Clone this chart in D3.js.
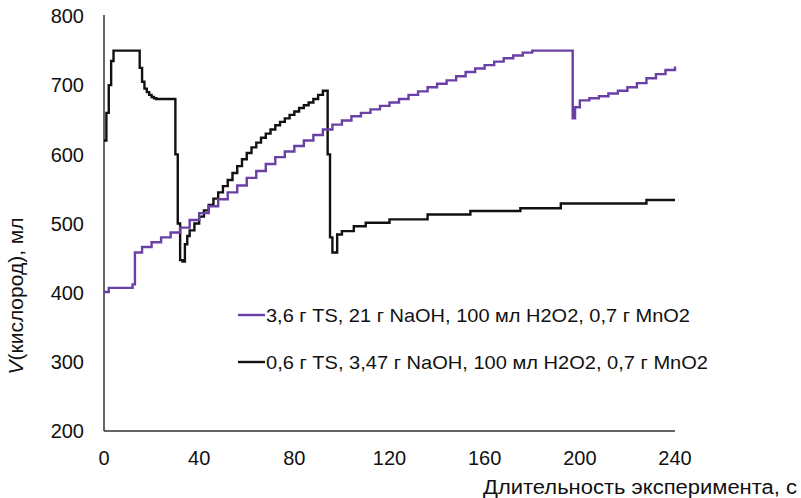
<!DOCTYPE html>
<html><head><meta charset="utf-8">
<script src="https://cdn.jsdelivr.net/npm/d3@7"></script>
<style>body{margin:0;background:#fff}svg{display:block}text{font-family:"Liberation Sans",Arial,sans-serif;fill:#111}</style>
</head><body>
<svg id="c" width="801" height="498"></svg>
<script>
// Data
const yTicks = [200,300,400,500,600,700,800];
const xTicks = [0,40,80,120,160,200,240];
const seriesNames = ["3,6 г TS, 21 г NaOH, 100 мл H2O2, 0,7 г MnO2", "0,6 г TS, 3,47 г NaOH, 100 мл H2O2, 0,7 г MnO2"];
const purpleT = [0,2,12,13,16,20,24,28,32,36,40,44,48,52,56,60,64,68,72,76,80,84,88,92,96,100,104,108,112,116,120,124,128,132,136,140,144,148,152,156,160,164,168,172,176,180,197,198,200,204,208,212,216,220,224,228,232,236,240];
const purpleV = [401,407,412,458,466,473,480,487,494,505,515,525,535,545,555,566,576,586,596,604,612,620,628,636,643,649,655,660,665,670,675,680,686,691,697,702,707,713,719,724,729,734,739,743,747,750,652,668,678,681,684,688,692,697,703,710,716,722,727];
const blackT = [0,1,2,3,4,15,16,17,18,19,20,21,22,30,31,32,33,34,35,36,38,40,42,44,46,48,50,52,54,56,58,60,62,64,66,68,70,72,74,76,78,80,82,84,86,88,90,92,94,95,96,98,100,105,110,120,136,154,175,192,228,240];
const blackV = [620,660,700,735,750,725,705,695,690,686,683,681,680,600,500,447,445,470,482,490,500,510,519,527,536,545,554,563,573,583,593,602,610,617,624,630,636,642,647,652,657,662,667,671,675,680,686,692,600,480,458,484,489,496,501,506,513,518,522,529,534,534];

const svg = d3.select("#c");
const x = d3.scaleLinear().domain([0,240]).range([104,675]);
const y = d3.scaleLinear().domain([200,800]).range([431,16]);

// axes lines
svg.append("line").attr("x1",104).attr("x2",104).attr("y1",y(800)-1).attr("y2",y(200)).attr("stroke","#333").attr("stroke-width",1.5);
svg.append("line").attr("x1",104).attr("x2",x(240)).attr("y1",y(200)).attr("y2",y(200)).attr("stroke","#333").attr("stroke-width",1.5);

svg.append("g").selectAll("text").data(yTicks).join("text")
  .attr("x",84).attr("y",d=>y(d)).attr("dy","0.36em").attr("text-anchor","end")
  .style("font-size","20px").text(d=>d);
svg.append("g").selectAll("text").data(xTicks).join("text")
  .attr("x",d=>x(d)).attr("y",458).attr("dy","0.36em").attr("text-anchor","middle")
  .style("font-size","20px").text(d=>d);

svg.append("text").attr("x",797).attr("y",494).attr("text-anchor","end").style("font-size","20px")
  .attr("textLength",314).attr("lengthAdjust","spacingAndGlyphs").text("Длительность эксперимента, с");
const yl = svg.append("text").attr("transform","translate(23,296) rotate(-90)").attr("text-anchor","middle").style("font-size","21px");
yl.append("tspan").style("font-style","italic").text("V");
yl.append("tspan").text("(кислород), мл");

const line = d3.line().x(d=>x(d[0])).y(d=>y(d[1])).curve(d3.curveStepAfter);
const purple = purpleT.map((t,i)=>[t,purpleV[i]]);
const black = blackT.map((t,i)=>[t,blackV[i]]);
svg.append("path").datum(black).attr("d",line).attr("fill","none").attr("stroke","#111").attr("stroke-width",2.4);
svg.append("path").datum(purple).attr("d",line).attr("fill","none").attr("stroke","#6a40a6").attr("stroke-width",2.4);

// legend
const colors = ["#6a40a6","#111"];
const legendW = [424, 442];
const lg = svg.append("g").selectAll("g").data(seriesNames).join("g").attr("transform",(d,i)=>`translate(238,${315+i*47})`);
lg.append("line").attr("x1",0).attr("x2",27).attr("stroke",(d,i)=>colors[i]).attr("stroke-width",2.4);
lg.append("text").attr("x",28).attr("dy","0.36em").style("font-size","19px")
  .attr("textLength",(d,i)=>legendW[i]).attr("lengthAdjust","spacingAndGlyphs").text(d=>d);
</script>
</body></html>
